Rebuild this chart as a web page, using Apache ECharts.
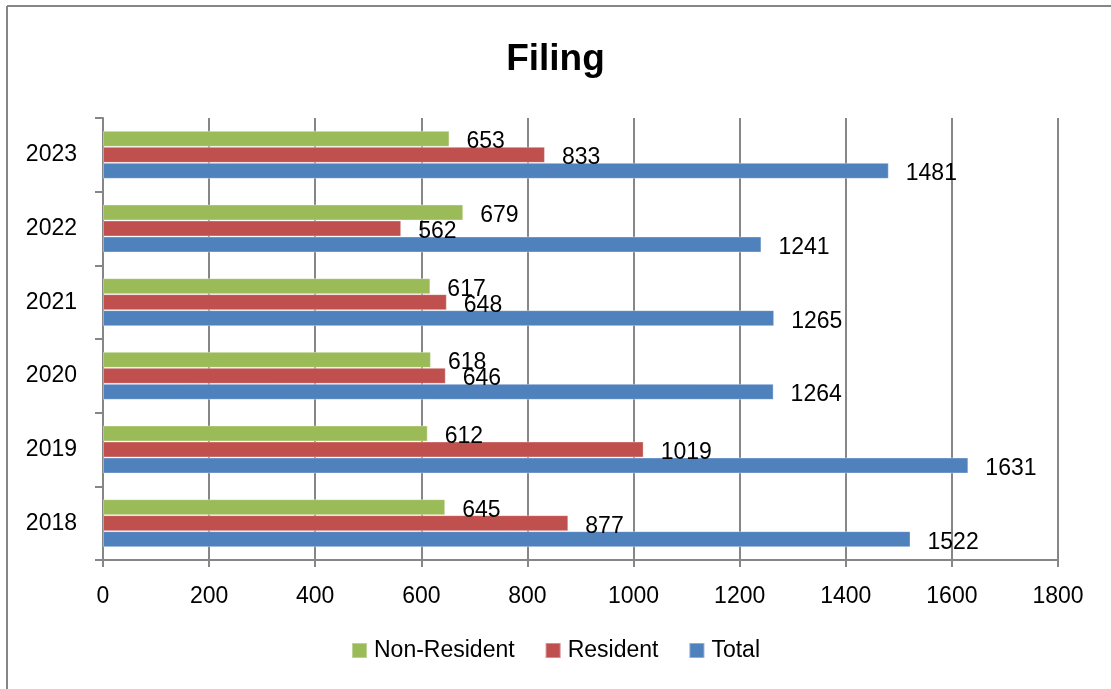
<!DOCTYPE html>
<html>
<head>
<meta charset="utf-8">
<script src="https://cdn.jsdelivr.net/npm/echarts@6/dist/echarts.min.js"></script>
<style>
html, body { margin: 0; padding: 0; background: #fff; }
#main { width: 1111px; height: 689px; }
</style>
</head>
<body>
<div id="main"></div>
<script>
var years = ['2018', '2019', '2020', '2021', '2022', '2023'];
var total = [1522, 1631, 1264, 1265, 1241, 1481];
var resident = [877, 1019, 646, 648, 562, 833];
var nonResident = [645, 612, 618, 617, 679, 653];
var xTicks = [0, 200, 400, 600, 800, 1000, 1200, 1400, 1600, 1800];

var font = 'Liberation Sans';
var gray = '#868686';

var chart = echarts.init(document.getElementById('main'));

function barSeries(name, data, color) {
	return {
		name: name,
		type: 'bar',
		data: data,
		barWidth: 16,
		barGap: '0%',
		itemStyle: { color: color, borderColor: 'rgba(255,255,255,0.35)', borderWidth: 1 },
		label: {
			show: true,
			position: 'right',
			distance: 17,
			offset: [0, 3],
			color: '#000',
			fontFamily: font,
			fontSize: 23,
			formatter: function (p) { return String(p.value); }
		}
	};
}

var option = {
	animation: false,
	backgroundColor: '#fff',
	title: {
		text: 'Filing',
		left: 'center',
		top: 36,
		textStyle: { fontFamily: font, fontWeight: 'bold', fontSize: 37, color: '#000' }
	},
	legend: {
		data: ['Non-Resident', 'Resident', 'Total'],
		bottom: 22,
		left: 'center',
		itemWidth: 15,
		itemHeight: 15,
		itemGap: 30,
		icon: 'rect',
		textStyle: { fontFamily: font, fontSize: 23, color: '#000', padding: [0, 0, 0, 2] }
	},
	grid: { left: 103, right: 53, top: 118, bottom: 129, containLabel: false },
	xAxis: {
		type: 'value',
		min: xTicks[0],
		max: xTicks[xTicks.length - 1],
		interval: 200,
		axisLine: { show: true, lineStyle: { color: gray, width: 2 } },
		axisTick: { show: true, length: 7, lineStyle: { color: gray, width: 2 } },
		splitLine: { show: true, lineStyle: { color: gray, width: 2 } },
		axisLabel: { margin: 25, color: '#000', fontFamily: font, fontSize: 23, formatter: function (v) { return String(v); } }
	},
	yAxis: {
		type: 'category',
		data: years,
		axisLine: { show: true, lineStyle: { color: gray, width: 2 } },
		axisTick: { show: true, length: 8, lineStyle: { color: gray, width: 2 } },
		axisLabel: { margin: 26, color: '#000', fontFamily: font, fontSize: 23 }
	},
	series: [
		barSeries('Non-Resident', nonResident, '#9BBB59'),
		barSeries('Resident', resident, '#C0504D'),
		barSeries('Total', total, '#4F81BD')
	],
	graphic: [
		{ type: 'line', shape: { x1: 7, y1: 6, x2: 1111, y2: 6 }, style: { stroke: gray, lineWidth: 2 } },
		{ type: 'line', shape: { x1: 7, y1: 6, x2: 7, y2: 689 }, style: { stroke: gray, lineWidth: 2 } }
	]
};

chart.setOption(option);
</script>
</body>
</html>
